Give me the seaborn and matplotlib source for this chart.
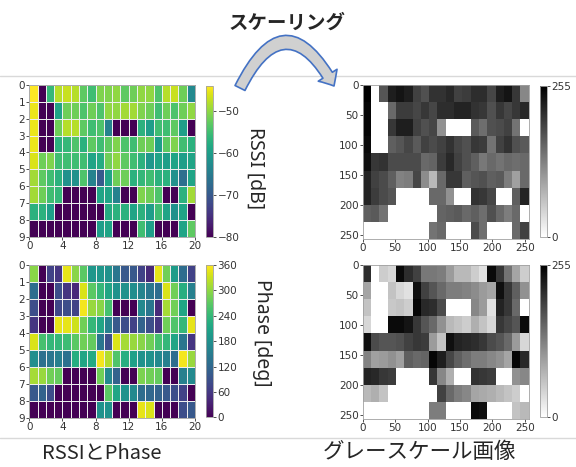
import numpy as np
import matplotlib
matplotlib.use("Agg")
import matplotlib.pyplot as plt
from matplotlib.patches import FancyArrowPatch
from matplotlib.lines import Line2D
import seaborn as sns

# RSSI [dB] per cell (rows 0-8, columns 0-19)
rssi = [
    [-44, -80, -56, -48, -47, -48, -53, -55, -51, -51, -50, -53, -52, -50, -50, -54, -48, -47, -52, -63],
    [-45, -80, -80, -59, -52, -52, -54, -52, -54, -50, -50, -49, -49, -51, -52, -55, -52, -54, -52, -50],
    [-45, -80, -80, -52, -48, -48, -53, -55, -54, -64, -80, -80, -80, -57, -60, -55, -55, -53, -60, -80],
    [-45, -80, -80, -57, -56, -54, -57, -53, -55, -53, -51, -54, -55, -52, -52, -60, -53, -51, -55, -57],
    [-46, -52, -51, -55, -55, -55, -55, -59, -58, -52, -50, -53, -55, -57, -61, -59, -60, -59, -60, -59],
    [-49, -53, -55, -57, -62, -62, -54, -64, -70, -59, -52, -52, -57, -56, -55, -57, -57, -62, -67, -59],
    [-49, -52, -55, -56, -80, -80, -80, -80, -59, -59, -64, -80, -80, -51, -52, -54, -80, -80, -57, -49],
    [-57, -57, -60, -80, -80, -80, -80, -80, -80, -58, -57, -57, -59, -57, -60, -55, -59, -62, -59, -80],
    [-80, -80, -80, -80, -80, -80, -80, -80, -60, -59, -80, -80, -80, -55, -60, -80, -80, -80, -59, -53],
]

# Phase [deg] per cell
phase = [
    [296, 0, 71, 56, 346, 296, 268, 191, 191, 184, 141, 99, 99, 71, 42, 346, 282, 198, 127, 71],
    [127, 0, 0, 85, 56, 42, 339, 268, 240, 212, 184, 184, 176, 162, 141, 127, 339, 282, 226, 155],
    [85, 0, 0, 78, 85, 71, 353, 304, 296, 254, 0, 0, 0, 169, 141, 42, 311, 282, 212, 0],
    [56, 0, 0, 346, 346, 332, 282, 240, 212, 155, 99, 85, 71, 113, 85, 56, 282, 261, 240, 346],
    [339, 254, 240, 240, 247, 268, 282, 275, 141, 85, 339, 311, 304, 296, 282, 254, 240, 212, 141, 56],
    [176, 134, 141, 155, 134, 226, 212, 219, 353, 318, 261, 226, 205, 184, 184, 169, 155, 127, 353, 304],
    [311, 304, 282, 275, 0, 0, 0, 0, 282, 169, 113, 0, 0, 289, 282, 275, 0, 0, 155, 169],
    [99, 113, 85, 0, 0, 0, 0, 0, 0, 268, 212, 184, 169, 127, 120, 113, 99, 85, 71, 0],
    [0, 0, 0, 0, 0, 0, 0, 0, 184, 184, 0, 0, 0, 346, 339, 0, 0, 0, 85, 99],
]

# grayscale images (0-255)
rssi_gray = [
    [255, 0, 170, 225, 235, 225, 190, 175, 205, 205, 215, 190, 195, 210, 210, 185, 225, 235, 200, 120],
    [250, 0, 0, 150, 195, 195, 185, 200, 185, 210, 210, 220, 220, 205, 200, 175, 200, 185, 200, 215],
    [250, 0, 0, 200, 225, 225, 190, 175, 185, 110, 0, 0, 0, 165, 145, 175, 180, 190, 140, 0],
    [245, 0, 0, 160, 170, 185, 165, 190, 180, 190, 205, 185, 175, 200, 195, 140, 190, 205, 175, 165],
    [240, 200, 205, 180, 180, 180, 180, 150, 155, 195, 215, 190, 175, 160, 135, 150, 140, 150, 145, 150],
    [220, 190, 180, 160, 125, 130, 185, 115, 70, 150, 200, 200, 160, 170, 175, 160, 165, 130, 95, 150],
    [220, 195, 180, 170, 0, 0, 0, 0, 150, 150, 110, 0, 0, 205, 200, 185, 0, 0, 160, 220],
    [160, 165, 140, 0, 0, 0, 0, 0, 0, 155, 160, 165, 150, 160, 145, 175, 150, 130, 150, 0],
    [0, 0, 0, 0, 0, 0, 0, 0, 140, 150, 0, 0, 0, 180, 145, 0, 0, 0, 150, 190],
]

phase_gray = [
    [210, 0, 50, 40, 245, 210, 190, 135, 135, 130, 100, 70, 70, 50, 30, 245, 200, 140, 90, 50],
    [90, 0, 0, 60, 40, 30, 240, 190, 170, 150, 130, 130, 125, 115, 100, 90, 240, 200, 160, 110],
    [60, 0, 0, 55, 60, 50, 250, 215, 210, 180, 0, 0, 0, 120, 100, 30, 220, 200, 150, 0],
    [40, 0, 0, 245, 245, 235, 200, 170, 150, 110, 70, 60, 50, 80, 60, 40, 200, 185, 170, 245],
    [240, 180, 170, 170, 175, 190, 200, 195, 100, 60, 240, 220, 215, 210, 200, 180, 170, 150, 100, 40],
    [125, 95, 100, 110, 95, 160, 150, 155, 250, 225, 185, 160, 145, 130, 130, 120, 110, 90, 250, 215],
    [220, 215, 200, 195, 0, 0, 0, 0, 200, 120, 80, 0, 0, 205, 200, 195, 0, 0, 110, 120],
    [70, 80, 60, 0, 0, 0, 0, 0, 0, 190, 150, 130, 120, 90, 85, 80, 70, 60, 50, 0],
    [0, 0, 0, 0, 0, 0, 0, 0, 130, 130, 0, 0, 0, 245, 240, 0, 0, 0, 60, 70],
]

grid_xticks = [0, 4, 8, 12, 16, 20]
grid_yticks = list(range(10))
pixel_ticks = [0, 50, 100, 150, 200, 250]
rssi_cbar_ticks = [-50, -60, -70, -80]
phase_cbar_ticks = [0, 60, 120, 180, 240, 300, 360]
gray_cbar_ticks = [0, 255]

sns.set_style("white")
plt.rcParams['font.family'] = ['DejaVu Sans', 'Noto Sans CJK JP']

W, H = 576, 467
fig = plt.figure(figsize=(W / 100, H / 100), dpi=100)
TICK_COLOR = '#333333'
EDGE = '#a0a0a0'
TICK_SIZE = 7.5


def box(x0, y0, x1, y1):
    # pixel box (top-left origin) -> figure fraction rect
    return [x0 / W, 1 - y1 / H, (x1 - x0) / W, (y1 - y0) / H]


def style_axes(ax, cax, cticks):
    ax.tick_params(bottom=True, left=True, length=2, width=0.6, pad=1,
                   labelsize=TICK_SIZE, colors=TICK_COLOR)
    for s in ax.spines.values():
        s.set_visible(True)
        s.set_color(EDGE)
        s.set_linewidth(0.6)
    cax.set_yticks(cticks)
    cax.set_yticklabels([str(t).replace('-', '\u2212') for t in cticks])
    cax.tick_params(right=True, length=2, width=0.6, pad=1,
                    labelsize=TICK_SIZE, colors=TICK_COLOR)
    cb = ax.collections[0].colorbar
    cb.outline.set_edgecolor(EDGE)
    cb.outline.set_linewidth(0.6)


def value_map(data, pos, cpos, vmin, vmax, cticks):
    ax = fig.add_axes(box(*pos))
    cax = fig.add_axes(box(*cpos))
    sns.heatmap(np.array(data), ax=ax, cbar_ax=cax, cmap='viridis',
                vmin=vmin, vmax=vmax, linewidths=0.6, linecolor='#eeeeee',
                xticklabels=False, yticklabels=False)
    ax.set_xticks(grid_xticks)
    ax.set_xticklabels(grid_xticks)
    ax.set_yticks(grid_yticks)
    ax.set_yticklabels(grid_yticks, rotation=0)
    style_axes(ax, cax, cticks)
    return ax


def gray_map(data, pos, cpos):
    arr = np.array(data)
    ax = fig.add_axes(box(*pos))
    cax = fig.add_axes(box(*cpos))
    sns.heatmap(arr, ax=ax, cbar_ax=cax, cmap='gray_r', vmin=0, vmax=255,
                xticklabels=False, yticklabels=False)
    # image is 256 x 256 pixels stretched over the cell grid
    ax.set_xticks([t * arr.shape[1] / 256 for t in pixel_ticks])
    ax.set_xticklabels(pixel_ticks)
    ax.set_yticks([t * arr.shape[0] / 256 for t in pixel_ticks])
    ax.set_yticklabels(pixel_ticks, rotation=0)
    style_axes(ax, cax, gray_cbar_ticks)
    return ax


value_map(rssi, (29.3, 85, 195, 236.7), (206, 86, 213.3, 236.7), -80, -44, rssi_cbar_ticks)
value_map(phase, (29.3, 265, 195, 418.3), (206, 265, 213.3, 417.3), 0, 360, phase_cbar_ticks)
gray_map(rssi_gray, (362.7, 85.3, 528.7, 238.7), (540, 86, 547.3, 236.7))
gray_map(phase_gray, (362.7, 265.3, 528.7, 418.7), (540, 265, 547.3, 417.3))

# side labels
side_font = ['Noto Sans', 'DejaVu Sans']
fig.text(255 / W, 1 - 168 / H, 'RSSI [dB]', rotation=-90, ha='center', va='center',
         fontsize=14, family=side_font)
fig.text(262 / W, 1 - 333 / H, 'Phase [deg]', rotation=-90, ha='center', va='center',
         fontsize=14, family=side_font)

# separator lines
for y in (76, 438):
    fig.add_artist(Line2D([0, 1], [1 - y / H, 1 - y / H], color='#d9d9d9', lw=1,
                          transform=fig.transFigure, zorder=1))

# curved arrow
arrow = FancyArrowPatch((240 / W, 1 - 88 / H), (334 / W, 1 - 86 / H),
                        transform=fig.transFigure,
                        connectionstyle='arc3,rad=-0.95',
                        arrowstyle='simple,head_length=9,head_width=16,tail_width=8',
                        mutation_scale=1, shrinkA=0, shrinkB=0,
                        fc='#d0d0d0', ec='#4472c4', lw=1.2, zorder=5)
fig.add_artist(arrow)

jp = ['Noto Sans CJK JP', 'DejaVu Sans']
fig.text(287 / W, 1 - 23 / H, 'スケーリング', ha='center', va='center',
         fontsize=14, fontweight='bold', family=jp)
fig.text(102 / W, 1 - 453 / H, 'RSSIとPhase', ha='center', va='center',
         fontsize=14.5, family=jp)
fig.text(419 / W, 1 - 452 / H, 'グレースケール画像', ha='center', va='center',
         fontsize=15.5, family=jp)

fig.savefig('out.png', dpi=100)
